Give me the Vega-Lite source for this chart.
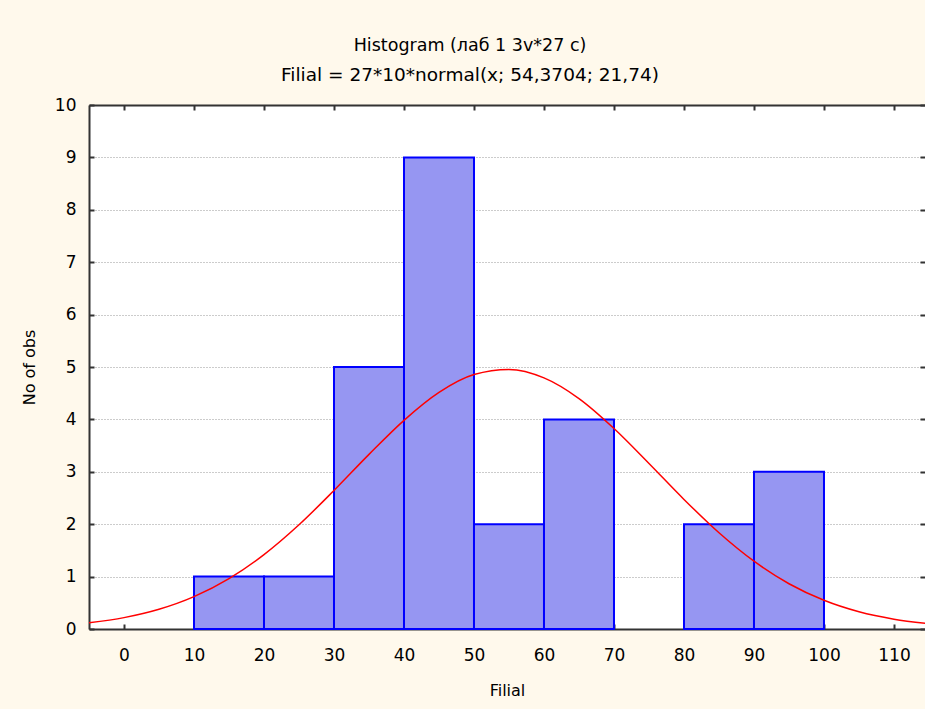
{
  "$schema": "https://vega.github.io/schema/vega-lite/v6.json",
  "autosize": "none",
  "width": 836,
  "height": 524,
  "padding": {"left": 89, "top": 105, "right": 0, "bottom": 80},
  "background": "#FFF9EC",
  "config": {
    "view": {"stroke": null, "fill": "#FFFFFF"},
    "axis": {
      "labelFont": "DejaVu Sans",
      "labelFontSize": 17,
      "labelColor": "#000000",
      "titleFont": "DejaVu Sans",
      "titleFontSize": 16,
      "titleFontWeight": "normal",
      "titleColor": "#000000",
      "domainColor": "#333333",
      "domainWidth": 2,
      "tickColor": "#333333",
      "tickWidth": 2
    }
  },
  "title": {
    "text": "Histogram (лаб 1 3v*27 c)",
    "subtitle": "Filial = 27*10*normal(x; 54,3704; 21,74)",
    "anchor": "middle",
    "dx": -37,
    "offset": 12,
    "font": "DejaVu Sans",
    "fontSize": 17.5,
    "fontWeight": "normal",
    "color": "#000000",
    "subtitleFont": "DejaVu Sans",
    "subtitleFontSize": 18.5,
    "subtitleColor": "#000000",
    "subtitlePadding": 11
  },
  "datasets": {
    "bins": [
      {"lo": 10, "hi": 20, "count": 1},
      {"lo": 20, "hi": 30, "count": 1},
      {"lo": 30, "hi": 40, "count": 5},
      {"lo": 40, "hi": 50, "count": 9},
      {"lo": 50, "hi": 60, "count": 2},
      {"lo": 60, "hi": 70, "count": 4},
      {"lo": 80, "hi": 90, "count": 2},
      {"lo": 90, "hi": 100, "count": 3}
    ],
    "curve": [
      {"x": -5, "y": 0.119}, {"x": 0, "y": 0.217}, {"x": 5, "y": 0.376},
      {"x": 10, "y": 0.617}, {"x": 15, "y": 0.961}, {"x": 20, "y": 1.42},
      {"x": 25, "y": 1.989}, {"x": 30, "y": 2.644}, {"x": 35, "y": 3.332},
      {"x": 40, "y": 3.982}, {"x": 45, "y": 4.515}, {"x": 50, "y": 4.856},
      {"x": 55, "y": 4.953}, {"x": 60, "y": 4.792}, {"x": 65, "y": 4.397},
      {"x": 70, "y": 3.826}, {"x": 75, "y": 3.159}, {"x": 80, "y": 2.473},
      {"x": 85, "y": 1.837}, {"x": 90, "y": 1.294}, {"x": 95, "y": 0.864},
      {"x": 100, "y": 0.548}, {"x": 105, "y": 0.329}, {"x": 110, "y": 0.188},
      {"x": 115, "y": 0.101}
    ]
  },
  "layer": [
    {
      "data": {"name": "bins"},
      "mark": {"type": "rect", "fill": "#9696F2", "stroke": "#0000FF", "strokeWidth": 2},
      "encoding": {
        "x": {
          "field": "lo", "type": "quantitative",
          "scale": {"domain": [-5, 114.43], "nice": false, "zero": false},
          "axis": {
            "orient": "bottom", "values": [0,10,20,30,40,50,60,70,80,90,100,110],
            "title": "Filial", "titlePadding": 19, "tickSize": -5, "labelPadding": 23,
            "grid": false
          }
        },
        "x2": {"field": "hi"},
        "y": {
          "field": "count", "type": "quantitative",
          "scale": {"domain": [0, 10], "nice": false},
          "axis": {
            "orient": "left", "values": [0,1,2,3,4,5,6,7,8,9,10],
            "title": "No of obs", "titlePadding": 17, "tickSize": -5, "labelPadding": 18,
            "grid": true, "gridColor": "#999999", "gridDash": [1, 2], "gridWidth": 1
          }
        },
        "y2": {"datum": 0}
      }
    },
    {
      "data": {"name": "curve"},
      "mark": {"type": "line", "color": "#FF0000", "strokeWidth": 1.5, "interpolate": "monotone", "clip": true},
      "encoding": {
        "x": {
          "field": "x", "type": "quantitative",
          "axis": {
            "orient": "top", "values": [0,10,20,30,40,50,60,70,80,90,100,110],
            "labels": false, "title": null, "tickSize": -5, "grid": false
          }
        },
        "y": {
          "field": "y", "type": "quantitative",
          "axis": {
            "orient": "right", "values": [0,1,2,3,4,5,6,7,8,9,10],
            "labels": false, "title": null, "tickSize": -5, "domain": false, "grid": false
          }
        }
      }
    }
  ],
  "resolve": {"axis": {"x": "independent", "y": "independent"}}
}
